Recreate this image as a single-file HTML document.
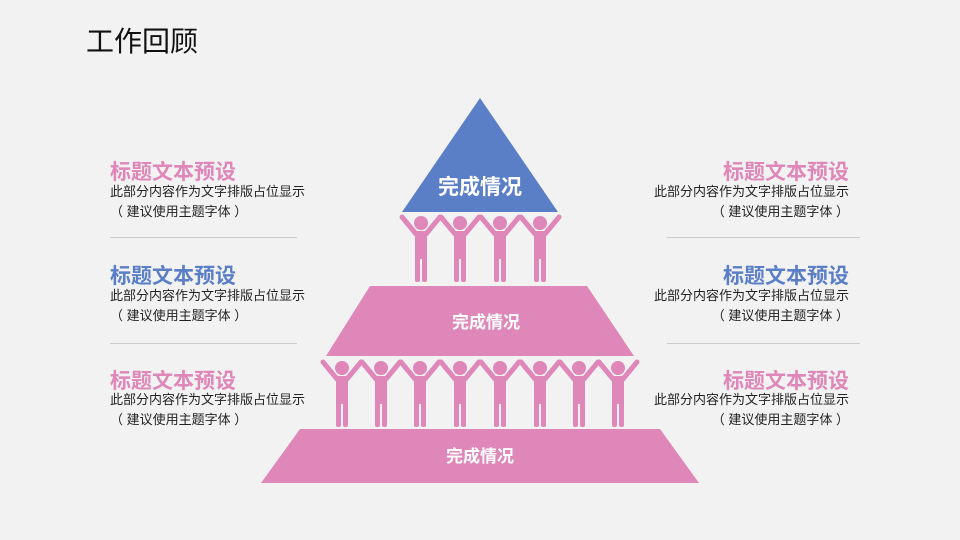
<!DOCTYPE html>
<html><head><meta charset="utf-8"><style>
body{margin:0;width:960px;height:540px;background:#f2f2f2;position:relative;overflow:hidden;font-family:"Liberation Sans","Noto Sans CJK SC",sans-serif}
.t{position:absolute;font-size:21px;font-weight:bold;white-space:nowrap}
.b{position:absolute;font-size:13px;color:#222;white-space:nowrap;line-height:20px}
.p{color:#de87b8}.u{color:#5b7fc7}
.hr{position:absolute;height:1px;background:#ccc}
</style></head><body>
<div style="position:absolute;left:86px;top:20px;font-size:28px;color:#111">工作回顾</div>
<svg width="960" height="540" style="position:absolute;left:0;top:0">
<defs>
<g id="m" fill="#de87b8">
<circle cx="0" cy="-5" r="7"/>
<rect x="-6" y="3" width="12" height="28" rx="2"/>
<rect x="-6" y="26" width="5" height="28" rx="2"/>
<rect x="1" y="26" width="5" height="28" rx="2"/>
<path d="M-5 6 L-19 -11 M5 6 L19 -11" stroke="#de87b8" stroke-width="5" stroke-linecap="round" fill="none"/>
</g>
</defs>
<polygon points="480,98 558,212 402,212" fill="#5b7fc7"/>
<use href="#m" x="421" y="228"/><use href="#m" x="460" y="228"/><use href="#m" x="500" y="228"/><use href="#m" x="540" y="228"/>
<polygon points="370,286 587,286 634,356 326,356" fill="#de87b8"/>
<use href="#m" x="342" y="373"/><use href="#m" x="381" y="373"/><use href="#m" x="420" y="373"/><use href="#m" x="460" y="373"/><use href="#m" x="500" y="373"/><use href="#m" x="540" y="373"/><use href="#m" x="579" y="373"/><use href="#m" x="618" y="373"/>
<polygon points="300,429 660,429 699,483 261,483" fill="#de87b8"/>
<g fill="#fff" font-weight="bold" text-anchor="middle" font-family="Liberation Sans,Noto Sans CJK SC,sans-serif">
<text x="480" y="194" font-size="21">完成情况</text>
<text x="486" y="328" font-size="17">完成情况</text>
<text x="480" y="462" font-size="17">完成情况</text>
</g>
</svg>
<div class="t p" style="left:110px;top:156px">标题文本预设</div>
<div class="b" style="left:110px;top:182px">此部分内容作为文字排版占位显示<br>（ 建议使用主题字体 ）</div>
<div class="hr" style="left:110px;top:237px;width:187px"></div>
<div class="t u" style="left:110px;top:260px">标题文本预设</div>
<div class="b" style="left:110px;top:286px">此部分内容作为文字排版占位显示<br>（ 建议使用主题字体 ）</div>
<div class="hr" style="left:110px;top:343px;width:187px"></div>
<div class="t p" style="left:110px;top:365px">标题文本预设</div>
<div class="b" style="left:110px;top:390px">此部分内容作为文字排版占位显示<br>（ 建议使用主题字体 ）</div>
<div class="t p" style="right:111px;top:156px">标题文本预设</div>
<div class="b" style="right:111px;top:182px;text-align:right">此部分内容作为文字排版占位显示<br>（ 建议使用主题字体 ）</div>
<div class="hr" style="left:667px;top:237px;width:193px"></div>
<div class="t u" style="right:111px;top:260px">标题文本预设</div>
<div class="b" style="right:111px;top:286px;text-align:right">此部分内容作为文字排版占位显示<br>（ 建议使用主题字体 ）</div>
<div class="hr" style="left:667px;top:343px;width:193px"></div>
<div class="t p" style="right:111px;top:365px">标题文本预设</div>
<div class="b" style="right:111px;top:390px;text-align:right">此部分内容作为文字排版占位显示<br>（ 建议使用主题字体 ）</div>
</body></html>
